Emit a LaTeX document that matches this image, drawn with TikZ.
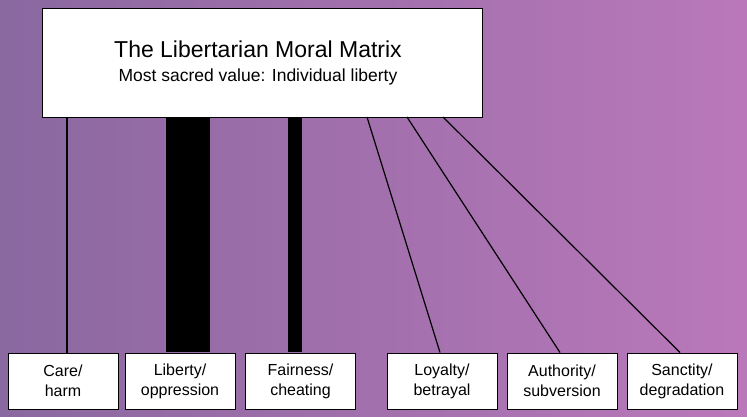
\documentclass[tikz,border=0pt]{standalone}
\usepackage{fontspec}
\setmainfont{Liberation Sans}
\begin{document}
\begin{tikzpicture}[x=1pt,y=-1pt,
  box/.style={draw=black,line width=1pt,fill=white,minimum width=110pt,minimum height=56pt,inner sep=1pt,align=center,font=\fontsize{16}{20}\selectfont},
  conn/.style={draw=black,line width=1.2pt}]
\shade[left color={rgb,255:red,138;green,104;blue,160},right color={rgb,255:red,186;green,120;blue,186}] (0,0) rectangle (747,416);
\useasboundingbox (0,0) rectangle (747,416);
\node[draw=black,line width=1pt,fill=white,minimum width=440pt,minimum height=109pt] (top) at (262,62.5) {};
\node (title) at (258,49) {\fontsize{23}{28}\selectfont The Libertarian Moral Matrix};
\node (sub) at (258,77) {\fontsize{17.5}{21}\selectfont Most sacred value: Individual liberty};
\node[box] (care) at (63,381) {Care/\\harm};
\node[box] (lib) at (180,381) {Liberty/\\oppression};
\node[box] (fair) at (300.5,381) {Fairness/\\cheating};
\node[box] (loy) at (442,381) {Loyalty/\\betrayal};
\node[box] (auth) at (562,381) {Authority/\\subversion};
\node[box] (sanc) at (682,381) {Sanctity/\\degradation};
\draw[conn] (care.north -| 67,0) -- (top.south -| 67,0);
\fill[black] (166,117) rectangle (210,352);
\fill[black] (288,117) rectangle (302,352);
\coordinate (l1) at (367,117); \coordinate (l2) at (407,117); \coordinate (l3) at (443,117);
\draw[conn] (l1) -- (loy.north -| 440,0);
\draw[conn] (l2) -- (auth.north -| 560,0);
\draw[conn] (l3) -- (sanc.north -| 680,0);
\end{tikzpicture}
\end{document}
